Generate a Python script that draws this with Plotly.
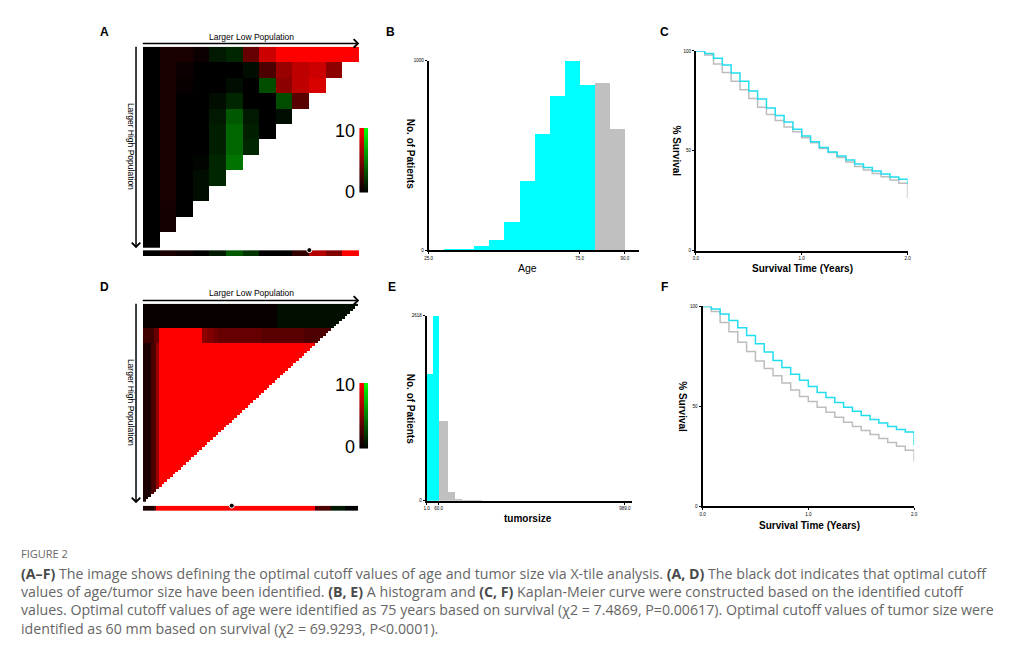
import numpy as np
import plotly.graph_objects as go

W, H = 1015, 647
# the page body keeps its default 8px margin, so the figure starts 8px in
OX, OY = 8, 8

# ---- panel A: x-tile grid for age (values 0-10, positive = red, negative = green)
a_rows = [
    [0, 1, 1, 0.5, -1, -1.5, 4, 8, 10, 10, 10, 10, 10],
    [0, 1, 0.5, 0, 0, 0, -0.5, 3, 6, 7.5, 8, 5.5],
    [0, 1, 0.3, 0, 0, -0.5, 0, -3, 5.5, 7.5, 8.5],
    [0, 1, 0, 0, -0.5, -1.5, 0, 0, -3, 3.5],
    [0, 1, 0, 0, -1, -3.5, -1, 0, -0.5],
    [0, 1, 0, 0, -1.2, -4, -1.2, 0],
    [0, 1, 0, 0, -1.2, -4, -1.5],
    [0, 1, 0, -0.2, -1.5, -4.5],
    [0, 1, 0, -0.5, -1.5],
    [0, 1, 0, -0.5],
    [0, 0.8, 0],
    [0, 0.8],
    [0],
]
a_strip = [0, 1, 0.5, 0, -1, -3.5, -2, 0, 0, 2, 7, 5, 10]
a_cut_index = 9.5

# ---- panel D: x-tile grid for tumor size
d_n = 80
d_row_kind = ["top"] * 10 + ["band"] * 6 + ["body"] * 64
d_top_cols = [0.3] * 50 + [-0.6] * 30
d_band_cols = [2.5] * 4 + [4] * 2 + [10] * 16 + [5.5] * 2 + [5] * 2 + [4.5] * 2 + [4] * 16 + [3.5] * 16 + [3] * 12 + [2] * 8
d_body_cols = [1] * 3 + [3] * 2 + [6] + [10] * 74
d_strip = [1] * 4 + [3.5] + [10] * 59 + [3] * 6 + [-1] * 5 + [0] * 5
d_cut_index = 32.5

# ---- panel B: age histogram
b_bin_left = [30, 35, 40, 45, 50, 55, 60, 65, 70, 75, 80, 85]
b_counts = [3, 9, 23, 52, 149, 367, 615, 815, 1000, 871, 883, 640]
b_bin_width = 5
b_cutoff = 75

# ---- panel E: tumor size histogram
e_edges = [1, 31, 60, 108, 141, 177, 210, 245, 276]
e_counts = [1803, 2618, 1133, 126, 32, 10, 6, 4]
e_cutoff = 60

# ---- Kaplan-Meier curves (monthly steps over 2 years)
km_months = list(range(25))
c_low = [100, 98.8, 96.4, 93, 89, 84.8, 80, 76, 71.5, 67.7, 64.4, 60.8, 57.5,
         54.6, 51.7, 49.5, 47.5, 45.4, 43.4, 41.7, 40, 38.4, 37, 35.8, 33.4]
c_high = [100, 98, 93.5, 89.2, 84.8, 80.6, 76.2, 71.9, 68.2, 65.2, 61.9, 59.6, 56.6,
          54.1, 51.2, 49.2, 46.7, 44.5, 42.2, 40.4, 38.7, 37.1, 35.4, 33.8, 26.3]
f_low = [100, 98.7, 96.2, 93, 89.3, 85.5, 81.3, 77.2, 73, 69.4, 66.1, 63.1, 60,
         57, 54.5, 52, 49.6, 47.6, 45.5, 43.5, 41.7, 40, 38.5, 37.2, 30.6]
f_high = [100, 97.5, 92, 87.3, 82.1, 77.4, 72.7, 68.9, 65.3, 61.7, 58.2, 55, 52.4,
          49.6, 47.1, 44.6, 42.1, 40, 38, 35.9, 33.9, 31.9, 30.1, 28.1, 22.3]

CYAN = "#00FFFF"
GRAY = "#C0C0C0"
KM_CYAN = "#22DDEE"
KM_GRAY = "#BDBDBD"
FONT = "Liberation Sans, Arial, sans-serif"
RG = [[0, "rgb(0,255,0)"], [0.5, "rgb(0,0,0)"], [1, "rgb(255,0,0)"]]


def px_x(p0, p1):
    return [(p0 - OX) / W, (p1 - OX) / W]


def px_y(top, bottom):
    return [1 - (bottom - OY) / H, 1 - (top - OY) / H]


def tri(rows, n):
    return [list(r) + [None] * (n - len(r)) for r in rows]


d_kind_cols = {"top": d_top_cols, "band": d_band_cols, "body": d_body_cols}
d_rows = [d_kind_cols[k][:d_n - i] for i, k in enumerate(d_row_kind)]

legend_levels = np.linspace(0, 10, 41)
legend_z = [[v, -v] for v in legend_levels]

fig = go.Figure()


def add_xtile(rows, strip, cut, n, ax_heat, ax_strip, ax_leg):
    fig.add_trace(go.Heatmap(z=tri(rows, n), x=list(range(n)), y=list(range(n)),
                             colorscale=RG, zmin=-10, zmax=10, showscale=False,
                             xaxis="x" + ax_heat, yaxis="y" + ax_heat, hoverinfo="skip"))
    fig.add_trace(go.Heatmap(z=[strip], x=list(range(n)), y=[0],
                             colorscale=RG, zmin=-10, zmax=10, showscale=False,
                             xaxis="x" + ax_strip, yaxis="y" + ax_strip, hoverinfo="skip"))
    fig.add_trace(go.Scatter(x=[cut], y=[0.5], mode="markers", cliponaxis=False,
                             marker=dict(color="black", size=5, line=dict(color="white", width=1)),
                             xaxis="x" + ax_strip, yaxis="y" + ax_strip, hoverinfo="skip"))
    fig.add_trace(go.Heatmap(z=legend_z, x=[0, 1], y=legend_levels,
                             colorscale=RG, zmin=-10, zmax=10, showscale=False,
                             xaxis="x" + ax_leg, yaxis="y" + ax_leg, hoverinfo="skip"))


add_xtile(a_rows, a_strip, a_cut_index, 13, "", "2", "3")
add_xtile(d_rows, d_strip, d_cut_index, d_n, "4", "5", "6")

# histograms
b_colors = [CYAN if l <= b_cutoff else GRAY for l in b_bin_left]
fig.add_trace(go.Bar(x=[l + b_bin_width / 2 for l in b_bin_left], y=b_counts,
                     width=b_bin_width, marker=dict(color=b_colors, line=dict(width=0)),
                     xaxis="x7", yaxis="y7"))
e_mid = [(e_edges[i] + e_edges[i + 1]) / 2 for i in range(len(e_counts))]
e_w = [e_edges[i + 1] - e_edges[i] for i in range(len(e_counts))]
e_colors = [CYAN if e_edges[i + 1] <= e_cutoff else GRAY for i in range(len(e_counts))]
fig.add_trace(go.Bar(x=e_mid, y=e_counts, width=e_w,
                     marker=dict(color=e_colors, line=dict(width=0)),
                     xaxis="x9", yaxis="y9"))

# survival curves
km_years = [m / 12 for m in km_months]
for ys, col, ax in [(c_high, KM_GRAY, "8"), (c_low, KM_CYAN, "8"),
                    (f_high, KM_GRAY, "10"), (f_low, KM_CYAN, "10")]:
    fig.add_trace(go.Scatter(x=km_years, y=ys, mode="lines", line=dict(color=col, width=1.5, shape="hv"),
                             xaxis="x" + ax, yaxis="y" + ax, cliponaxis=False))


def hidden(domain, rng, anchor):
    return dict(domain=domain, range=rng, visible=False, anchor=anchor, fixedrange=True)


def shown(domain, rng, vals, texts, anchor):
    return dict(domain=domain, range=rng, anchor=anchor, showline=True, linecolor="black",
                linewidth=2, ticks="outside", ticklen=2, tickwidth=1, tickcolor="black",
                tickvals=vals, ticktext=texts, showgrid=False, zeroline=False,
                tickfont=dict(family=FONT, size=4.5, color="black"), fixedrange=True)


layout_axes = dict(
    xaxis=hidden(px_x(140, 358), [-0.5, 12.5], "y"),
    yaxis=hidden(px_y(45, 248), [12.5, -0.5], "x"),
    xaxis2=hidden(px_x(140, 358), [-0.5, 12.5], "y2"),
    yaxis2=hidden(px_y(250, 256), [-0.5, 0.5], "x2"),
    xaxis3=hidden(px_x(358, 367), [-0.5, 1.5], "y3"),
    yaxis3=hidden(px_y(127, 192), [0, 10], "x3"),
    xaxis4=hidden(px_x(140, 357), [-0.5, d_n - 0.5], "y4"),
    yaxis4=hidden(px_y(304, 504), [d_n - 0.5, -0.5], "x4"),
    xaxis5=hidden(px_x(140, 357), [-0.5, d_n - 0.5], "y5"),
    yaxis5=hidden(px_y(507.5, 513), [-0.5, 0.5], "x5"),
    xaxis6=hidden(px_x(358, 367), [-0.5, 1.5], "y6"),
    yaxis6=hidden(px_y(384, 450), [0, 10], "x6"),
    xaxis7=shown(px_x(428, 640), [25, 94.7], [25, 75, 90], ["25.0", "75.0", "90.0"], "y7"),
    yaxis7=shown(px_y(59.3, 250), [0, 1000], [0, 1000], ["0", "1000"], "x7"),
    xaxis8=shown(px_x(697.3, 910.7), [0, 2], [0, 1, 2], ["0.0", "1.0", "2.0"], "y8"),
    yaxis8=shown(px_y(49.3, 250.7), [0, 100], [0, 50, 100], ["0", "50", "100"], "x8"),
    xaxis9=shown(px_x(426, 633), [1, 1025], [1, 60, 989], ["1.0", "60.0", "989.0"], "y9"),
    yaxis9=shown(px_y(316, 502.5), [0, 2618], [0, 2618], ["0", "2618"], "x9"),
    xaxis10=shown(px_x(704, 917.3), [0, 2], [0, 1, 2], ["0.0", "1.0", "2.0"], "y10"),
    yaxis10=shown(px_y(306.7, 508.3), [0, 100], [0, 50, 100], ["0", "50", "100"], "x10"),
)

ann = []


def text(x, y, s, size=9, angle=0, xanchor="center", color="black", family=FONT):
    ann.append(dict(x=(x - OX) / W, y=1 - (y - OY) / H, xref="paper", yref="paper", text=s,
                    showarrow=False, textangle=angle, xanchor=xanchor, yanchor="middle",
                    font=dict(family=family, size=size, color=color)))


def arrow(x0, y0, x1, y1):
    ann.append(dict(x=(x1 - OX) / W, y=1 - (y1 - OY) / H, xref="paper", yref="paper", text="",
                    showarrow=True, ax=x0 - x1, ay=y0 - y1, arrowhead=4, arrowsize=1.1,
                    arrowwidth=1.5, arrowcolor="black"))


# panel letters
for s, x, y in [("A", 101, 30), ("B", 390, 30), ("C", 666, 30),
                ("D", 101, 287), ("E", 391, 287), ("F", 666, 287)]:
    text(x, y, "<b>%s</b>" % s, size=12)

# x-tile decorations
for top, bottom, ytxt, ymid, leg_top, leg_bot in [(45, 248, 35, 145, 130, 191.7),
                                                 (304, 505, 293.3, 403, 386, 448)]:
    arrow(140, top - 3.3, 358, top - 3.3)
    arrow(133, top, 133, bottom)
    text(249, ytxt, "Larger Low Population", size=8.5)
    text(128, ymid, "Larger High Population", size=8.5, angle=90)
    text(356, leg_top, "10", size=18, xanchor="right")
    text(356, leg_bot, "0", size=18, xanchor="right")

# axis titles
text(527.7, 268.3, "Age", size=10.5)
text(409.3, 153, "<b>No. of Patients</b>", size=10, angle=90)
text(805, 269, "<b>Survival Time (Years)</b>", size=10)
text(677.7, 150, "<b>% Survival</b>", size=10, angle=90)
text(527.7, 520.7, "<b>tumorsize</b>", size=10)
text(409.3, 410, "<b>No. of Patients</b>", size=10, angle=90)
text(811.7, 527.3, "<b>Survival Time (Years)</b>", size=10)
text(684.3, 408.3, "<b>% Survival</b>", size=10, angle=90)

# caption
CAP = "Open Sans, sans-serif"
B0, B1 = "<b><span style='color:#4a4a4a'>", "</span></b>"
text(15, 556, "FIGURE 2", size=11, xanchor="left", color="#666666", family=CAP)
cap_lines = [
    B0 + "(A\u2013F)" + B1 + " The image shows defining the optimal cutoff values of age and tumor size via X-tile analysis. "
    + B0 + "(A, D)" + B1 + " The black dot indicates that optimal cutoff",
    "values of age/tumor size have been identified. " + B0 + "(B, E)" + B1 + " A histogram and "
    + B0 + "(C, F)" + B1 + " Kaplan-Meier curve were constructed based on the identified cutoff",
    "values. Optimal cutoff values of age were identified as 75 years based on survival (\u03c72 = 7.4869, P=0.00617). "
    "Optimal cutoff values of tumor size were",
    "identified as 60 mm based on survival (\u03c72 = 69.9293, P<0.0001).",
]
for i, line in enumerate(cap_lines):
    text(15, 575.7 + i * 18.45, line, size=14.2, xanchor="left", color="#666666", family=CAP)

fig.update_layout(
    width=W, height=H, margin=dict(l=0, r=0, t=0, b=0),
    paper_bgcolor="white", plot_bgcolor="rgba(0,0,0,0)",
    showlegend=False, bargap=0, annotations=ann,
    **layout_axes,
)

fig.write_html("out.html")
